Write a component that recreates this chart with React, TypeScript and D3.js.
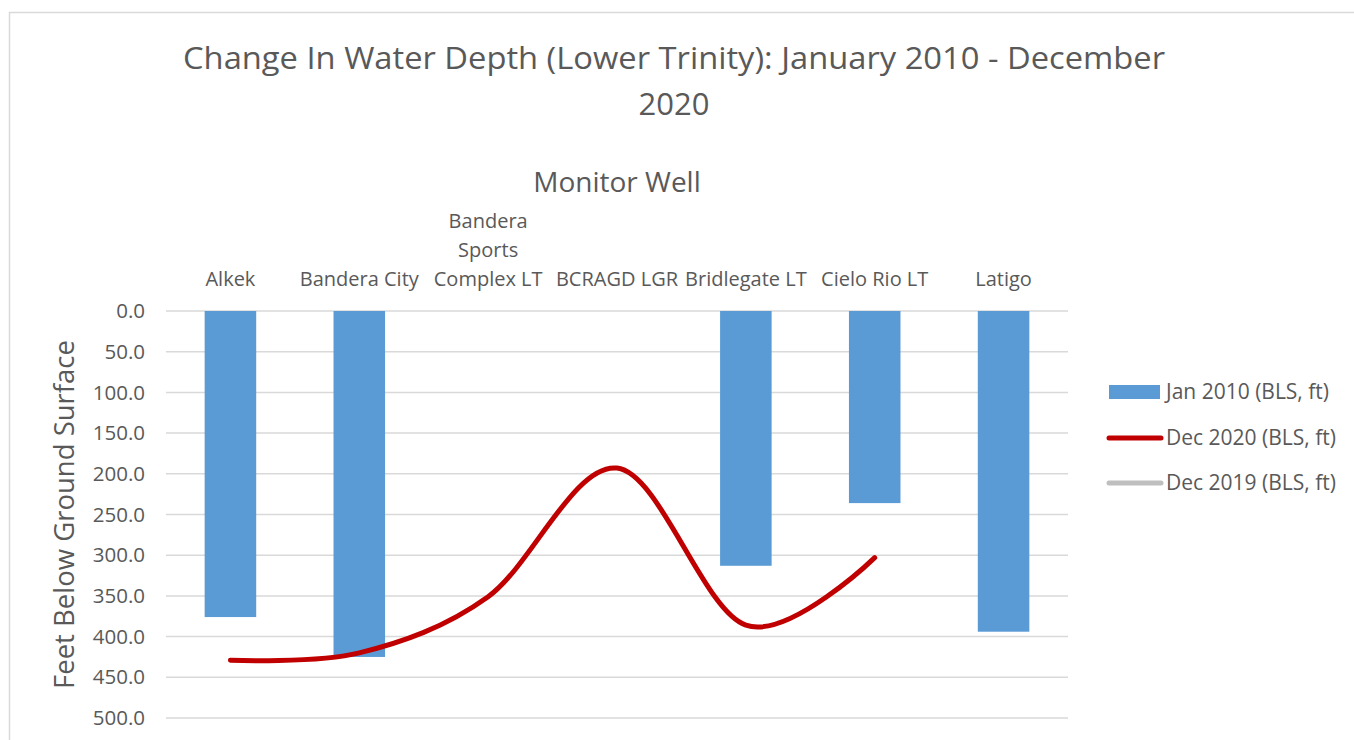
import React from 'react'
import * as d3 from 'd3'

const categories = ['Alkek', 'Bandera City', 'Bandera Sports Complex LT', 'BCRAGD LGR', 'Bridlegate LT', 'Cielo Rio LT', 'Latigo']
const jan2010: (number | null)[] = [376, 425, null, null, 313, 236, 394]
const dec2020: (number | null)[] = [429, 420, 351, 193, 386, 303, null]
const yTicks = [0, 50, 100, 150, 200, 250, 300, 350, 400, 450, 500]
const seriesNames = ['Jan 2010 (BLS, ft)', 'Dec 2020 (BLS, ft)', 'Dec 2019 (BLS, ft)']

const W = 1354
const H = 740
const font = "'Open Sans', sans-serif"
const textColor = '#595959'

const App = () => {
    const x = d3.scaleBand().domain(categories).range([166, 1068]).paddingInner(0.6).paddingOuter(0.3)
    const y = d3.scaleLinear().domain([0, 500]).range([311, 718])
    const cx = (c: string) => (x(c) as number) + x.bandwidth() / 2

    const lineGen = d3.line<[string, number | null]>()
        .defined(d => d[1] !== null)
        .x(d => cx(d[0]))
        .y(d => y(d[1] as number))
        .curve(d3.curveCardinal.tension(0))

    const labelLines = (c: string) => c === 'Bandera Sports Complex LT' ? ['Bandera', 'Sports', 'Complex LT'] : [c]

    return (
        <svg width={W} height={H} style={{ position: 'absolute', left: 0, top: 0, background: '#fff' }} fontFamily={font}>
            <rect x={9.5} y={12.5} width={W} height={H} fill="#fff" stroke="#d9d9d9" strokeWidth={1.5} />
            <text x={674} y={69} textAnchor="middle" fontSize={31} fill={textColor} textLength={982} lengthAdjust="spacingAndGlyphs">Change In Water Depth (Lower Trinity): January 2010 - December</text>
            <text x={674} y={115} textAnchor="middle" fontSize={31} fill={textColor}>2020</text>
            <text x={617} y={192} textAnchor="middle" fontSize={28} fill={textColor}>Monitor Well</text>

            {yTicks.map(t => (
                <g key={t}>
                    <line x1={166} x2={1068} y1={y(t)} y2={y(t)} stroke="#d9d9d9" strokeWidth={1.5} />
                    <text x={145} y={y(t)} dy="0.35em" textAnchor="end" fontSize={20.5} fill={textColor}>{t.toFixed(1)}</text>
                </g>
            ))}

            <text transform={`translate(74,${y(250)}) rotate(-90)`} textAnchor="middle" fontSize={27.5} fill={textColor}>Feet Below Ground Surface</text>

            {categories.map(c => {
                const lines = labelLines(c)
                return (
                    <text key={c} x={cx(c)} textAnchor="middle" fontSize={20} fill={textColor}>
                        {lines.map((l, i) => (
                            <tspan key={l} x={cx(c)} y={286 - (lines.length - 1 - i) * 29}>{l}</tspan>
                        ))}
                    </text>
                )
            })}

            {categories.map((c, i) => jan2010[i] === null ? null : (
                <rect key={c} x={x(c)} y={y(0)} width={x.bandwidth()} height={y(jan2010[i] as number) - y(0)} fill="#5b9bd5" />
            ))}

            <path d={lineGen(categories.map((c, i) => [c, dec2020[i]])) || ''} fill="none" stroke="#c00000" strokeWidth={5} strokeLinecap="round" />

            <g>
                <rect x={1109} y={385} width={51} height={14} fill="#5b9bd5" />
                <text x={1166} y={392} dy="0.35em" fontSize={21} fill={textColor}>{seriesNames[0]}</text>
                <line x1={1109} x2={1161} y1={438} y2={438} stroke="#c00000" strokeWidth={5} strokeLinecap="round" />
                <text x={1166} y={438} dy="0.35em" fontSize={21} fill={textColor}>{seriesNames[1]}</text>
                <line x1={1109} x2={1161} y1={483} y2={483} stroke="#bfbfbf" strokeWidth={5} strokeLinecap="round" />
                <text x={1166} y={483} dy="0.35em" fontSize={21} fill={textColor}>{seriesNames[2]}</text>
            </g>
        </svg>
    )
}

export default App
